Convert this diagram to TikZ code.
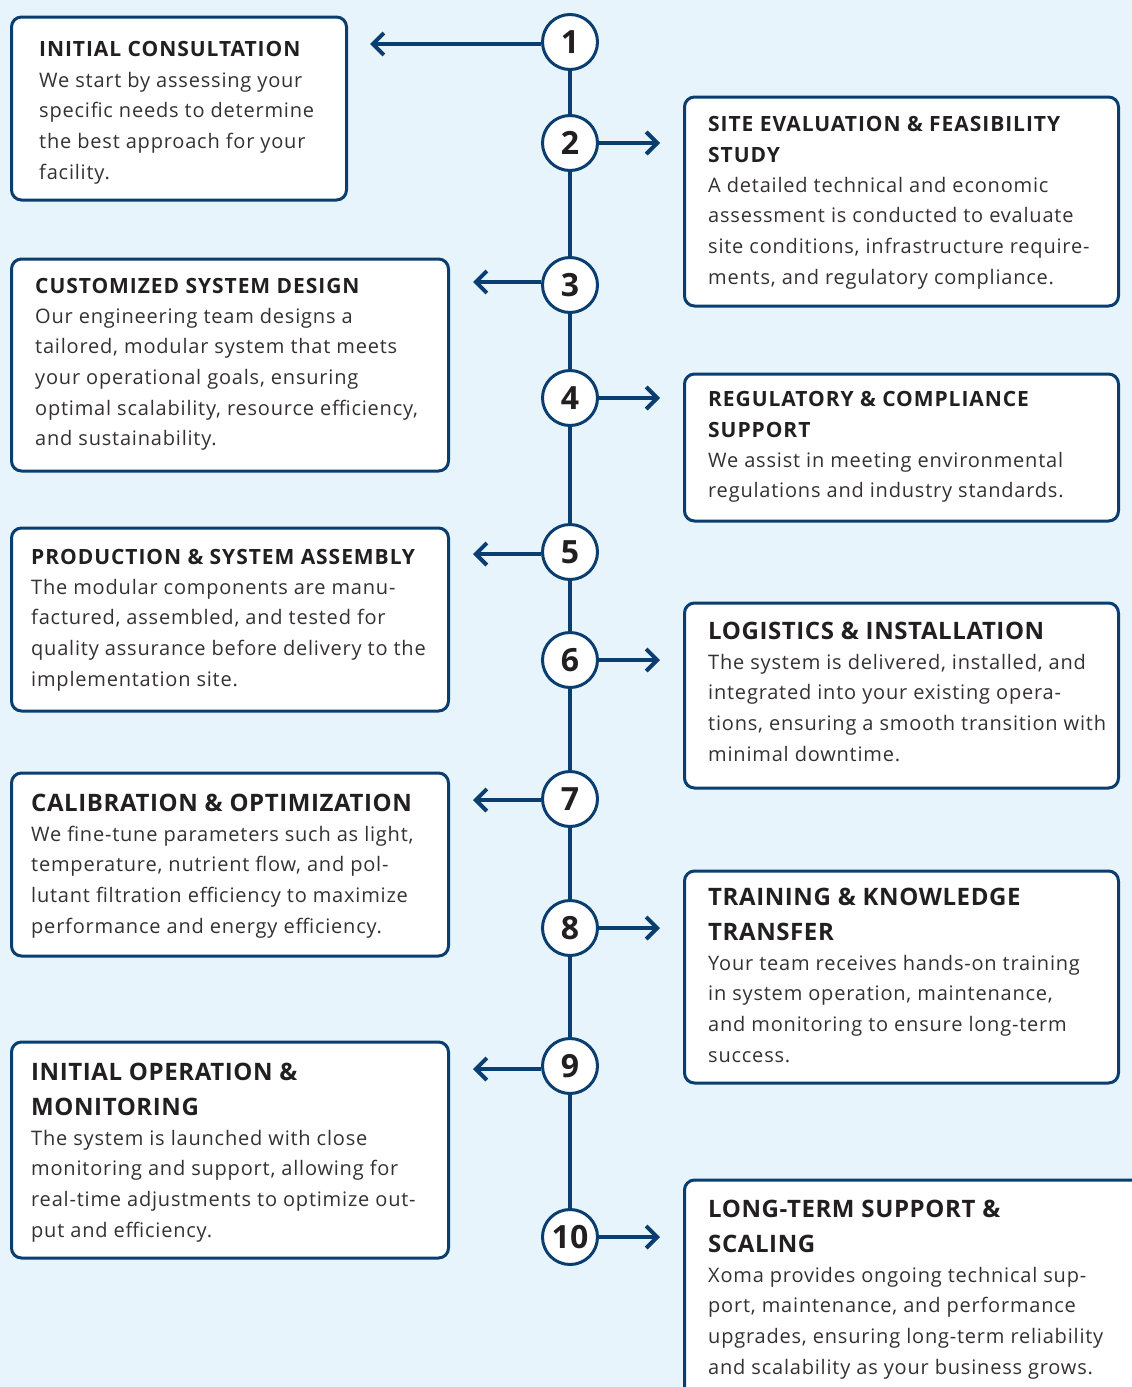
\documentclass[tikz,border=0pt]{standalone}
\usepackage{fontspec}
\setmainfont{Open Sans}
\newfontfamily\bodyfont[LetterSpace=4]{Open Sans}
\newfontfamily\ttlfont[LetterSpace=4.5]{Open Sans}
\newfontfamily\bigttlfont[LetterSpace=2.5]{Open Sans}
\usetikzlibrary{arrows.meta}
\definecolor{navy}{RGB}{10,62,112}
\definecolor{bg}{RGB}{232,244,251}
\definecolor{ink}{RGB}{35,31,32}
\newcommand\txtlines[5]{%
  \foreach \ln [count=\k from 0] in {#5} {\node[#4] at (#1,{#2+\k*#3}) {\ln};}}
\begin{document}
\begin{tikzpicture}[x=1pt,y=-1pt,
  card/.style={draw=navy, line width=3pt, fill=white, rounded corners=10pt, anchor=north west, inner sep=0pt},
  num/.style={circle, draw=navy, line width=3pt, fill=white, minimum size=55pt, inner sep=0pt,
    font={\fontsize{32}{32}\selectfont\bfseries}, text=ink},
  link/.style={draw=navy, line width=4pt, -{Straight Barb[length=11pt, width=22pt]}},
  ttl/.style={anchor=base west, inner sep=0pt, text=ink, font={\ttlfont\fontsize{21}{24}\selectfont\bfseries}},
  bigttl/.style={anchor=base west, inner sep=0pt, text=ink, font={\bigttlfont\fontsize{24}{28}\selectfont\bfseries}},
  body/.style={anchor=base west, inner sep=0pt, text=ink!92, font={\bodyfont\fontsize{20}{24}\selectfont}},
]
\useasboundingbox (0,0) rectangle (1132,1387);
\clip (0,0) rectangle (1132,1387);
\fill[bg] (0,0) rectangle (1132,1387);

% timeline circles
\node[num] (c1) at (570,42) {1};
\node[num] (c2) at (570,143) {2};
\node[num] (c3) at (570,285) {3};
\node[num] (c4) at (570,398) {4};
\node[num] (c5) at (570,552) {5};
\node[num] (c6) at (570,660) {6};
\node[num] (c7) at (570,799) {7};
\node[num] (c8) at (570,928) {8};
\node[num] (c9) at (570,1066) {9};
\node[num] (c10) at (570,1237) {10};
\draw[navy, line width=4.5pt] (c1) -- (c2) (c2) -- (c3) (c3) -- (c4) (c4) -- (c5) (c5) -- (c6)
  (c6) -- (c7) (c7) -- (c8) (c8) -- (c9) (c9) -- (c10);

% arrow ends
\coordinate (e1) at (370,44);
\coordinate (e2) at (660,143);
\coordinate (e3) at (473,282);
\coordinate (e4) at (660,398);
\coordinate (e5) at (473,554);
\coordinate (e6) at (660,660);
\coordinate (e7) at (473,800);
\coordinate (e8) at (660,928);
\coordinate (e9) at (473,1069);
\coordinate (e10) at (660,1237);
\draw[link] (c1.west |- e1) -- (e1);
\draw[link] (c2.east) -- (e2);
\draw[link] (c3.west |- e3) -- (e3);
\draw[link] (c4.east) -- (e4);
\draw[link] (c5.west |- e5) -- (e5);
\draw[link] (c6.east) -- (e6);
\draw[link] (c7.west |- e7) -- (e7);
\draw[link] (c8.east) -- (e8);
\draw[link] (c9.west |- e9) -- (e9);
\draw[link] (c10.east) -- (e10);

% cards
\node[card, minimum width=335pt, minimum height=183pt] (b1) at (10,15.5) {};
\node[card, minimum width=434pt, minimum height=209pt] (b2) at (683,95.5) {};
\node[card, minimum width=437pt, minimum height=212pt] (b3) at (10,257.5) {};
\node[card, minimum width=434pt, minimum height=147pt] (b4) at (683,372.5) {};
\node[card, minimum width=437pt, minimum height=183pt] (b5) at (10,526.5) {};
\node[card, minimum width=434pt, minimum height=185pt] (b6) at (683,601.5) {};
\node[card, minimum width=437pt, minimum height=183pt] (b7) at (10,771.5) {};
\node[card, minimum width=434pt, minimum height=212pt] (b8) at (683,869.5) {};
\node[card, minimum width=437pt, minimum height=216pt] (b9) at (10,1040.5) {};
\node[card, minimum width=470pt, minimum height=240pt] (b10) at (683,1178.5) {};

% texts
\txtlines{39}{56}{31}{ttl}{{INITIAL CONSULTATION}}
\txtlines{39}{87}{30.7}{body}{{We start by assessing your},{specific needs to determine},{the best approach for your},{facility.}}

\txtlines{708}{131}{31}{ttl}{{SITE EVALUATION \& FEASIBILITY},{STUDY}}
\txtlines{708}{192}{30.7}{body}{{A detailed technical and economic},{assessment is conducted to evaluate},{site conditions, infrastructure require-},{ments, and regulatory compliance.}}

\txtlines{35}{293}{31}{ttl}{{CUSTOMIZED SYSTEM DESIGN}}
\txtlines{35}{323}{30.7}{body}{{Our engineering team designs a},{tailored, modular system that meets},{your operational goals, ensuring},{optimal scalability, resource efficiency,},{and sustainability.}}

\txtlines{708}{406}{31}{ttl}{{REGULATORY \& COMPLIANCE},{SUPPORT}}
\txtlines{708}{467}{30.7}{body}{{We assist in meeting environmental},{regulations and industry standards.}}

\txtlines{31}{564}{31}{ttl}{{PRODUCTION \& SYSTEM ASSEMBLY}}
\txtlines{31}{594}{30.7}{body}{{The modular components are manu-},{factured, assembled, and tested for},{quality assurance before delivery to the},{implementation site.}}

\txtlines{708}{639}{35}{bigttl}{{LOGISTICS \& INSTALLATION}}
\txtlines{708}{669}{30.7}{body}{{The system is delivered, installed, and},{integrated into your existing opera-},{tions, ensuring a smooth transition with},{minimal downtime.}}

\txtlines{31}{811}{35}{bigttl}{{CALIBRATION \& OPTIMIZATION}}
\txtlines{31}{841}{30.7}{body}{{We fine-tune parameters such as light,},{temperature, nutrient flow, and pol-},{lutant filtration efficiency to maximize},{performance and energy efficiency.}}

\txtlines{708}{905}{35}{bigttl}{{TRAINING \& KNOWLEDGE},{TRANSFER}}
\txtlines{708}{970}{30.7}{body}{{Your team receives hands-on training},{in system operation, maintenance,},{and monitoring to ensure long-term},{success.}}

\txtlines{31}{1080}{35}{bigttl}{{INITIAL OPERATION \&},{MONITORING}}
\txtlines{31}{1145}{30.7}{body}{{The system is launched with close},{monitoring and support, allowing for},{real-time adjustments to optimize out-},{put and efficiency.}}

\txtlines{708}{1217}{35}{bigttl}{{LONG-TERM SUPPORT \&},{SCALING}}
\txtlines{708}{1282}{30.7}{body}{{Xoma provides ongoing technical sup-},{port, maintenance, and performance},{upgrades, ensuring long-term reliability},{and scalability as your business grows.}}
\end{tikzpicture}
\end{document}
